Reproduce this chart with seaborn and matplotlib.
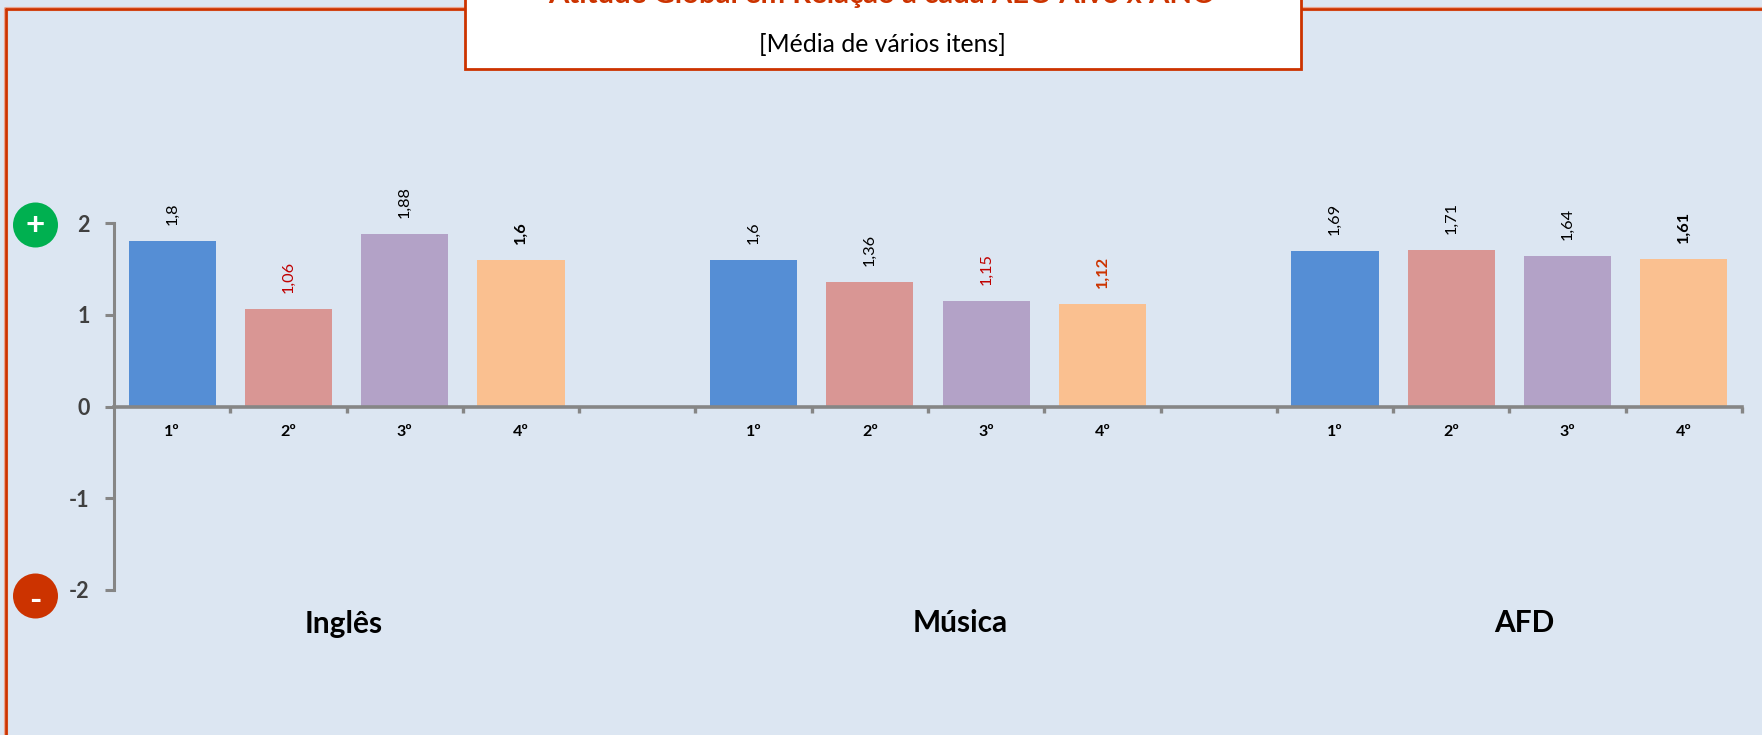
import pandas as pd
import matplotlib
matplotlib.use('Agg')
import matplotlib.pyplot as plt
from matplotlib.lines import Line2D
from matplotlib.patches import Ellipse, Rectangle
import seaborn as sns

# dados
aec = ['Inglês', 'Inglês', 'Inglês', 'Inglês', 'Música', 'Música', 'Música', 'Música', 'AFD', 'AFD', 'AFD', 'AFD']
ano = ['1º', '2º', '3º', '4º', '1º', '2º', '3º', '4º', '1º', '2º', '3º', '4º']
valores = [1.8, 1.06, 1.88, 1.6, 1.6, 1.36, 1.15, 1.12, 1.69, 1.71, 1.64, 1.61]
slots = ['Inglês 1º', 'Inglês 2º', 'Inglês 3º', 'Inglês 4º', 'gap1',
         'Música 1º', 'Música 2º', 'Música 3º', 'Música 4º', 'gap2',
         'AFD 1º', 'AFD 2º', 'AFD 3º', 'AFD 4º']
tick_labels = ['1º', '2º', '3º', '4º', '', '1º', '2º', '3º', '4º', '', '1º', '2º', '3º', '4º']
y_ticks = [-2, -1, 0, 1, 2]

# cores
cores_ano = {'1º': '#558ED5', '2º': '#D99694', '3º': '#B3A2C7', '4º': '#FAC090'}
cores_rotulo = ['black', '#C00000', 'black', 'black', 'black', 'black', '#C00000', '#CC3300',
                'black', 'black', 'black', 'black']
pesos_rotulo = ['normal', 'normal', 'normal', 'bold', 'normal', 'normal', 'normal', 'bold',
                'normal', 'normal', 'normal', 'bold']
fundo = '#DCE6F2'
vermelho = '#CC3300'
halo = '#E9A48F'
cinza = '#868686'

W, H = 1762, 735

sns.set_theme(style='white')
plt.rcParams['font.family'] = ['Lato', 'DejaVu Sans']

df = pd.DataFrame({'slot': [a + ' ' + b for a, b in zip(aec, ano)], 'ano': ano, 'valor': valores})

fig = plt.figure(figsize=(W / 100, H / 100), dpi=100, facecolor=fundo)
ax = fig.add_axes([114 / W, 1 - 590 / H, (1742 - 114) / W, (590 - 223) / H])
ax.patch.set_alpha(0)

sns.barplot(data=df, x='slot', y='valor', hue='ano', order=slots, palette=cores_ano, saturation=1,
            dodge=False, width=0.75, legend=False, linewidth=0, edgecolor='none', ax=ax)

ax.set_xlim(-0.5, len(slots) - 0.5)
ax.set_ylim(-2, 2)
ax.set_xlabel('')
ax.set_ylabel('')

# eixos
for lado in ['top', 'right']:
    ax.spines[lado].set_visible(False)
ax.spines['left'].set_color(cinza)
ax.spines['left'].set_linewidth(2.2)
ax.spines['bottom'].set_position(('data', 0))
ax.spines['bottom'].set_color(cinza)
ax.spines['bottom'].set_linewidth(2.6)

ax.set_yticks(y_ticks)
ax.set_yticklabels([str(v) for v in y_ticks], fontsize=15.5, fontweight='bold', color='#404040')
ax.tick_params(axis='y', length=6.5, width=2.2, color=cinza, pad=11, left=True)

# categorias no centro, tracinhos nos limites de cada categoria
ax.set_xticks(range(len(slots)))
ax.set_xticklabels(tick_labels, fontsize=11.5, fontweight='bold', color='black')
ax.set_xticks([i + 0.5 for i in range(len(slots))], minor=True)
ax.tick_params(axis='x', which='major', length=0, pad=13, bottom=True)
ax.tick_params(axis='x', which='minor', length=4, width=2.4, color=cinza, bottom=True)

# rótulos dos valores
posicoes = [slots.index(s) for s in df['slot']]
for x, v, c, p in zip(posicoes, valores, cores_rotulo, pesos_rotulo):
    txt = f'{v:g}'.replace('.', ',')
    ax.annotate(txt, xy=(x, v), xytext=(0, 11.5), textcoords='offset points', rotation=90,
                ha='center', va='bottom', fontsize=11.8, color=c, fontweight=p)


def px(x, y):
    return x / W, 1 - y / H


# moldura vermelha
for cor, lw in [(halo, 3.0), (vermelho, 1.9)]:
    fig.add_artist(Line2D([5.8 / W, 5.8 / W], [0, 1 - 8.7 / H], color=cor, lw=lw))
    fig.add_artist(Line2D([5.8 / W, 1], [1 - 8.7 / H, 1 - 8.7 / H], color=cor, lw=lw))

# caixa do título, por cima da moldura
x0, y0 = px(465, 69)
fig.add_artist(Rectangle((x0, y0), (1301 - 465) / W, 1 - y0 + 0.01, transform=fig.transFigure,
                         facecolor='white', edgecolor=vermelho, lw=2, zorder=3))
fig.text(*px(882, 3), 'Atitude Global em Relação a cada AEC-Alvo x ANO', ha='center', va='baseline',
         fontsize=21.2, fontweight='bold', color=vermelho, zorder=4)
fig.text(*px(882, 45), '[Média de vários itens]', ha='center', va='center', fontsize=17.8, color='black', zorder=4)

# marcadores + e -
for cy, cor, sinal, dy in [(225, '#00B050', '+', 1), (596, vermelho, '-', 4)]:
    cx0, cy0 = px(35.5, cy)
    fig.add_artist(Ellipse((cx0, cy0), 45 / W, 45 / H, transform=fig.transFigure, facecolor=cor, edgecolor='none'))
    fig.text(*px(35.5, cy + dy), sinal, ha='center', va='center', fontsize=24, fontweight='bold', color='white')

# nomes das AEC
for nome, x in [('Inglês', 344), ('Música', 960), ('AFD', 1524)]:
    fig.text(*px(x, 623.5), nome, ha='center', va='center', fontsize=21.5, fontweight='bold', color='black')

plt.savefig('out.png', dpi=100, facecolor=fundo)
